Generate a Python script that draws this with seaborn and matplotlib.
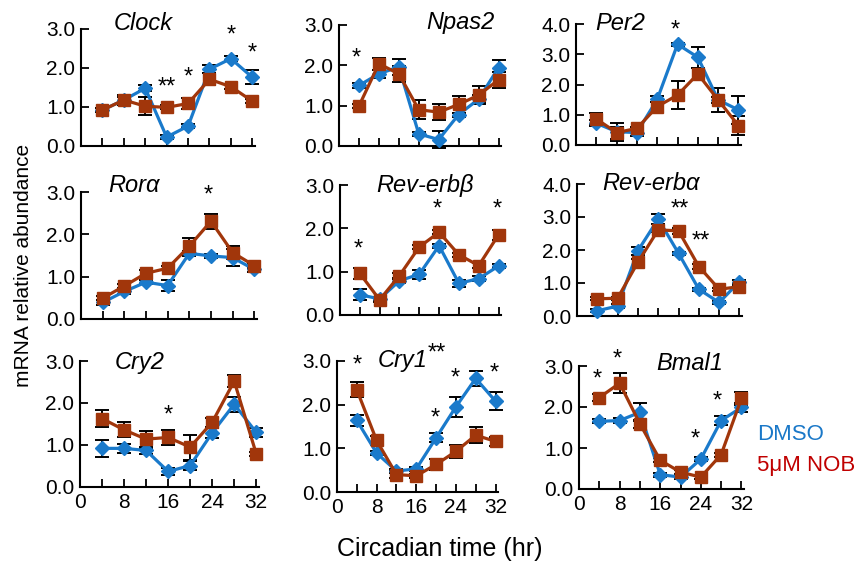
import numpy as np
import pandas as pd
import seaborn as sns
import matplotlib.pyplot as plt

# circadian sampling times (hr)
TIMES = [4, 8, 12, 16, 20, 24, 28, 32]

CLOCK_DMSO = [0.92, 1.18, 1.48, 0.23, 0.51, 1.97, 2.24, 1.76]
CLOCK_DMSO_ERR = [0.05, 0.08, 0.08, 0.05, 0.05, 0.10, 0.07, 0.18]
CLOCK_NOB = [0.92, 1.18, 1.02, 0.99, 1.09, 1.71, 1.52, 1.15]
CLOCK_NOB_ERR = [0.05, 0.12, 0.23, 0.05, 0.15, 0.15, 0.07, 0.05]
CLOCK_STARS = [(16, 1.50, '**'), (20, 1.75, '*'), (28, 2.83, '*'), (32, 2.38, '*')]

NPAS2_DMSO = [1.50, 1.79, 1.96, 0.30, 0.16, 0.78, 1.16, 1.94]
NPAS2_DMSO_ERR = [0.05, 0.10, 0.20, 0.05, 0.20, 0.05, 0.10, 0.20]
NPAS2_NOB = [0.99, 2.04, 1.79, 0.90, 0.84, 1.03, 1.26, 1.64]
NPAS2_NOB_ERR = [0.05, 0.15, 0.20, 0.23, 0.20, 0.20, 0.22, 0.20]
NPAS2_STARS = [(3.5, 2.17, '*')]

PER2_DMSO = [0.72, 0.44, 0.41, 1.51, 3.33, 2.90, 1.49, 1.16]
PER2_DMSO_ERR = [0.10, 0.30, 0.10, 0.10, 0.05, 0.35, 0.10, 0.46]
PER2_NOB = [0.86, 0.41, 0.55, 1.27, 1.65, 2.35, 1.49, 0.64]
PER2_NOB_ERR = [0.20, 0.20, 0.05, 0.15, 0.45, 0.20, 0.40, 0.31]
PER2_STARS = [(19.5, 3.80, '*')]

RORA_DMSO = [0.39, 0.65, 0.87, 0.79, 1.55, 1.49, 1.45, 1.17]
RORA_DMSO_ERR = [0.05, 0.05, 0.05, 0.13, 0.05, 0.05, 0.20, 0.05]
RORA_NOB = [0.49, 0.78, 1.08, 1.20, 1.72, 2.31, 1.57, 1.26]
RORA_NOB_ERR = [0.05, 0.05, 0.08, 0.05, 0.20, 0.18, 0.15, 0.05]
RORA_STARS = [(23.5, 2.92, '*')]

REVB_DMSO = [0.47, 0.37, 0.79, 0.94, 1.60, 0.73, 0.84, 1.13]
REVB_DMSO_ERR = [0.12, 0.05, 0.05, 0.10, 0.05, 0.08, 0.05, 0.05]
REVB_NOB = [0.96, 0.35, 0.91, 1.57, 1.91, 1.39, 1.14, 1.85]
REVB_NOB_ERR = [0.12, 0.05, 0.05, 0.05, 0.05, 0.05, 0.05, 0.12]
REVB_STARS = [(3.7, 1.52, '*'), (19.7, 2.44, '*'), (31.7, 2.44, '*')]

REVA_DMSO = [0.16, 0.30, 1.98, 2.94, 1.90, 0.81, 0.41, 1.04]
REVA_DMSO_ERR = [0.05, 0.05, 0.12, 0.15, 0.05, 0.05, 0.05, 0.05]
REVA_NOB = [0.52, 0.54, 1.63, 2.61, 2.58, 1.50, 0.81, 0.89]
REVA_NOB_ERR = [0.05, 0.05, 0.10, 0.05, 0.08, 0.08, 0.05, 0.05]
REVA_STARS = [(20.3, 3.22, '**'), (24.3, 2.26, '**')]

CRY2_DMSO = [0.92, 0.92, 0.87, 0.37, 0.51, 1.29, 1.97, 1.30]
CRY2_DMSO_ERR = [0.20, 0.10, 0.08, 0.08, 0.10, 0.12, 0.18, 0.10]
CRY2_NOB = [1.63, 1.36, 1.14, 1.18, 0.95, 1.54, 2.52, 0.79]
CRY2_NOB_ERR = [0.20, 0.18, 0.20, 0.17, 0.30, 0.10, 0.15, 0.05]
CRY2_STARS = [(16, 1.69, '*')]

CRY1_DMSO = [1.64, 0.89, 0.48, 0.53, 1.24, 1.95, 2.60, 2.08]
CRY1_DMSO_ERR = [0.13, 0.05, 0.05, 0.05, 0.10, 0.23, 0.18, 0.20]
CRY1_NOB = [2.34, 1.18, 0.40, 0.37, 0.63, 0.93, 1.30, 1.16]
CRY1_NOB_ERR = [0.17, 0.10, 0.08, 0.05, 0.12, 0.15, 0.18, 0.10]
CRY1_STARS = [(4, 2.90, '*'), (19.9, 1.68, '*'), (23.9, 2.60, '*'), (31.7, 2.71, '*')]

BMAL1_DMSO = [1.65, 1.67, 1.87, 0.35, 0.29, 0.73, 1.67, 1.99]
BMAL1_DMSO_ERR = [0.05, 0.05, 0.22, 0.05, 0.05, 0.05, 0.10, 0.10]
BMAL1_NOB = [2.23, 2.58, 1.59, 0.70, 0.41, 0.29, 0.84, 2.21]
BMAL1_NOB_ERR = [0.08, 0.25, 0.10, 0.05, 0.05, 0.05, 0.05, 0.15]
BMAL1_STARS = [(3.6, 2.68, '*'), (7.6, 3.16, '*'), (22.9, 1.20, '*'), (27.3, 2.13, '*')]

BLUE = '#1a7acb'
BROWN = '#a1360b'

# (title, dmso, dmso err, nob, nob err, stars, ymax, title pos, pixel rect)
PANELS = [
    ('Clock', CLOCK_DMSO, CLOCK_DMSO_ERR, CLOCK_NOB, CLOCK_NOB_ERR, CLOCK_STARS, 3, (0.36, 1.05), (81, 29, 255, 146)),
    ('Npas2', NPAS2_DMSO, NPAS2_DMSO_ERR, NPAS2_NOB, NPAS2_NOB_ERR, NPAS2_STARS, 3, (0.75, 1.02), (339, 25, 501, 146)),
    ('Per2', PER2_DMSO, PER2_DMSO_ERR, PER2_NOB, PER2_NOB_ERR, PER2_STARS, 4, (0.27, 1.0), (576, 24, 741, 145)),
    ('Rorα', RORA_DMSO, RORA_DMSO_ERR, RORA_NOB, RORA_NOB_ERR, RORA_STARS, 3, (0.30, 1.055), (81, 192, 257, 319)),
    ('Rev-erbβ', REVB_DMSO, REVB_DMSO_ERR, REVB_NOB, REVB_NOB_ERR, REVB_STARS, 3, (0.53, 1.0), (340, 185, 501, 315)),
    ('Rev-erbα', REVA_DMSO, REVA_DMSO_ERR, REVA_NOB, REVA_NOB_ERR, REVA_STARS, 4, (0.45, 1.0), (577, 184, 742, 316)),
    ('Cry2', CRY2_DMSO, CRY2_DMSO_ERR, CRY2_NOB, CRY2_NOB_ERR, CRY2_STARS, 3, (0.335, 0.985), (80, 361, 259, 487)),
    ('Cry1', CRY1_DMSO, CRY1_DMSO_ERR, CRY1_NOB, CRY1_NOB_ERR, CRY1_STARS, 3, (0.405, 1.0), (337, 361, 498, 492)),
    ('Bmal1', BMAL1_DMSO, BMAL1_DMSO_ERR, BMAL1_NOB, BMAL1_NOB_ERR, BMAL1_STARS, 3, (0.67, 1.02), (579, 366, 744, 489)),
]

W, H = 864, 563

sns.set_style('ticks')
plt.rcParams['font.family'] = ['Liberation Sans', 'DejaVu Sans']
plt.rcParams['text.color'] = 'black'
plt.rcParams['xtick.labelcolor'] = 'black'
plt.rcParams['ytick.labelcolor'] = 'black'

fig = plt.figure(figsize=(W / 100, H / 100), dpi=100)

for i, (title, dmso, dmso_err, nob, nob_err, stars, ymax, tpos, rect) in enumerate(PANELS):
    x0, y0, x1, y1 = rect
    ax = fig.add_axes([x0 / W, 1 - y1 / H, (x1 - x0) / W, (y1 - y0) / H])

    df = pd.DataFrame({
        'time': TIMES * 2,
        'value': dmso + nob,
        'group': ['DMSO'] * 8 + ['NOB'] * 8,
    })

    sns.lineplot(data=df, x='time', y='value', hue='group', style='group',
                 hue_order=['DMSO', 'NOB'], palette=[BLUE, BROWN],
                 markers={'DMSO': 'D', 'NOB': 's'}, dashes=False,
                 linewidth=2.3, markersize=7, legend=False, ax=ax,
                 clip_on=False, zorder=3)
    for line in ax.lines:
        line.set_markeredgecolor(line.get_color())
        line.set_markeredgewidth(1)
        if line.get_marker() == 's':
            line.set_markersize(8)
        else:
            line.set_markersize(7)

    # error bars (black, behind the markers)
    for vals, errs in [(dmso, dmso_err), (nob, nob_err)]:
        ax.errorbar(TIMES, vals, yerr=errs, fmt='none', ecolor='black',
                    elinewidth=1.4, capsize=5, capthick=1.4, zorder=2,
                    clip_on=False)

    for sx, sy, s in stars:
        ax.text(sx, sy, s, ha='center', va='center', fontsize=17)

    ax.text(tpos[0], tpos[1], title, transform=ax.transAxes, ha='center',
            va='center', fontsize=17, style='italic')
    if title == 'Cry1':
        ax.text(0.62, 1.06, '**', transform=ax.transAxes, ha='center',
                va='center', fontsize=17)

    ax.set_xlim(0, 32.5)
    ax.set_ylim(0, ymax)
    ax.set_xticks([0, 8, 16, 24, 32])
    ax.set_xticks([4, 12, 20, 28], minor=True)
    ax.set_yticks(np.arange(0, ymax + 0.5, 1.0))
    ax.set_yticklabels([f'{v:.1f}' for v in np.arange(0, ymax + 0.5, 1.0)])
    ax.tick_params(axis='both', which='both', direction='in', length=6,
                   width=1.3, labelsize=15, color='black', pad=4)
    if i < 6:
        ax.set_xticklabels([])
    ax.set_xlabel('')
    ax.set_ylabel('')
    sns.despine(ax=ax)
    for sp in ['left', 'bottom']:
        ax.spines[sp].set_linewidth(1.5)
        ax.spines[sp].set_color('black')

fig.text(24 / W, 1 - 265 / H, 'mRNA relative abundance', rotation=90,
         ha='center', va='center', fontsize=15)
fig.text(440 / W, 1 - 549 / H, 'Circadian time (hr)', ha='center',
         va='center', fontsize=18)
fig.text(757 / W, 1 - 435 / H, 'DMSO', color='#1a78c8', ha='left',
         va='center', fontsize=16)
fig.text(757 / W, 1 - 466 / H, '5μM NOB', color='#c00000', ha='left',
         va='center', fontsize=16)

fig.savefig('out.png', dpi=100)
